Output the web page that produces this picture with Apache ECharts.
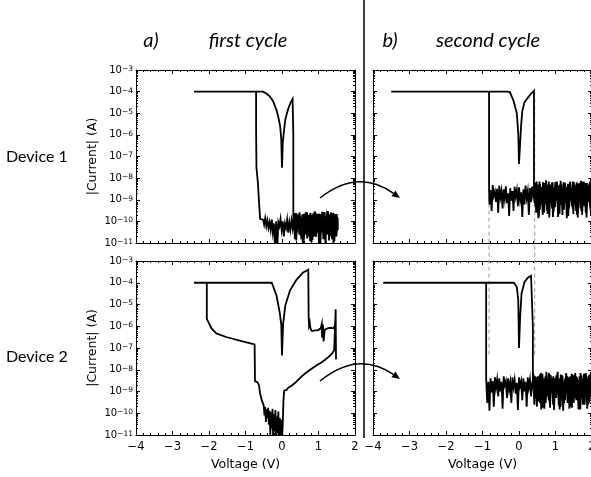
<!DOCTYPE html>
<html><head><meta charset="utf-8">
<script src="https://cdn.jsdelivr.net/npm/echarts@6/dist/echarts.min.js"></script>
<style>html,body{margin:0;padding:0;background:#fff}#c{width:591px;height:477px}</style>
</head><body><div id="c"></div>
<script>
// ---------- tick labels ----------
const xTickValues = [-4, -3, -2, -1, 0, 1, 2];
const yDecadeExponents = [-11, -10, -9, -8, -7, -6, -5, -4, -3];
const panelTitles = ['a)', 'first cycle', 'b)', 'second cycle'];
const rowLabels = ['Device 1', 'Device 2'];

// ---------- Device 1, first cycle : [V, |I| (A)] ----------
const dev1c1NoiseDown = [[1.52,9e-11],[1.49,2e-11],[1.46,2.2e-10],[1.43,4e-11],[1.40,1.5e-10],[1.37,1.5e-11],[1.34,2.6e-10],[1.31,6e-11],[1.28,1.8e-10],[1.25,2.5e-11],[1.22,1.2e-10],[1.19,8e-12],[1.16,2e-10],[1.13,5e-11],[1.10,2.8e-10],[1.07,3e-11],[1.04,1.4e-10],[1.01,1.8e-11],[0.98,2.2e-10],[0.95,7e-11],[0.92,1.6e-10],[0.89,2e-11],[0.86,2.4e-10],[0.83,4e-11],[0.80,1.3e-10],[0.77,1.2e-11],[0.74,2e-10],[0.71,6e-11],[0.68,1.7e-10],[0.65,2.5e-11],[0.62,2.3e-10],[0.59,5e-11],[0.56,1.4e-10],[0.53,1.5e-11],[0.50,1.9e-10],[0.47,4e-11],[0.44,2.1e-10],[0.41,3e-11],[0.38,1.5e-10],[0.35,6e-11],[0.32,1.8e-10],[0.29,5e-11],[0.26,1.1e-10],[0.23,4e-11],[0.20,9e-11],[0.17,3e-11],[0.14,1.2e-10],[0.11,5e-11],[0.08,8e-11],[0.05,2e-11],[0.02,1e-10],[-0.01,4e-11],[-0.04,1.3e-10],[-0.07,6e-11],[-0.10,9e-11],[-0.13,5e-12],[-0.16,1e-10],[-0.19,6e-12],[-0.22,8e-11],[-0.25,3e-11],[-0.28,1.2e-10],[-0.31,4e-11],[-0.34,9e-11],[-0.37,5e-11],[-0.40,1.1e-10],[-0.43,6e-11],[-0.46,1.4e-10],[-0.49,7e-11],[-0.52,1.2e-10],[-0.55,1e-10]];
const dev1c1Loop = [[-0.60,1.3e-10],[-0.63,8e-10],[-0.66,6e-9],[-0.70,3e-8],[-0.71,2e-6],[-0.71,1e-4],[-2.41,1e-4],[-0.52,1e-4],[-0.42,8e-5],[-0.33,5.9e-5],[-0.24,3.5e-5],[-0.15,1.4e-5],[-0.09,5.5e-6],[-0.05,2.5e-6],[-0.02,6e-7],[0.00,3e-8],[0.02,4e-7],[0.05,1.3e-6],[0.09,5e-6],[0.14,1.07e-5],[0.19,2e-5],[0.24,3.2e-5],[0.29,4.6e-5],[0.31,5e-5],[0.31,1e-6],[0.31,1e-8],[0.31,1.5e-10]];
const dev1c1NoiseUp = [[0.33,4e-11],[0.36,2.4e-10],[0.39,1.3e-11],[0.42,1.7e-10],[0.45,7e-11],[0.48,2.6e-10],[0.51,2.2e-11],[0.54,1.5e-10],[0.57,9e-12],[0.60,2e-10],[0.63,3.5e-11],[0.66,2.7e-10],[0.69,1.6e-11],[0.72,1.4e-10],[0.75,4.5e-11],[0.78,2.5e-10],[0.81,1.1e-11],[0.84,1.8e-10],[0.87,6e-11],[0.90,2.9e-10],[0.93,1.9e-11],[0.96,1.3e-10],[0.99,3e-11],[1.02,2.3e-10],[1.05,7e-12],[1.08,1.9e-10],[1.11,4e-11],[1.14,2.6e-10],[1.17,2.1e-11],[1.20,1.6e-10],[1.23,5e-11],[1.26,3e-10],[1.29,1.3e-11],[1.32,2e-10],[1.35,3.5e-11],[1.38,2.4e-10],[1.41,9e-12],[1.44,1.7e-10],[1.47,5.5e-11],[1.50,2.2e-10],[1.53,4e-11]];
const dev1c1NoiseBack = [[1.525,1.5e-10],[1.495,3e-11],[1.465,1e-10],[1.435,1.2e-11],[1.405,2.5e-10],[1.375,5e-11],[1.345,1.3e-10],[1.315,2e-11],[1.285,2.1e-10],[1.255,7e-11],[1.225,1.6e-10],[1.195,3e-11],[1.165,2.7e-10],[1.135,1.5e-11],[1.105,1.1e-10],[1.075,4.5e-11],[1.045,2.2e-10],[1.015,8e-12],[0.985,1.4e-10],[0.955,3.5e-11],[0.925,2.5e-10],[0.895,6e-11],[0.865,1.2e-10],[0.835,1.4e-11],[0.805,2e-10],[0.775,4e-11],[0.745,1.5e-10],[0.715,2e-11],[0.685,2.6e-10],[0.655,6e-11],[0.625,1.3e-10],[0.595,1e-11],[0.565,2.2e-10],[0.535,5e-11],[0.505,1.4e-10],[0.475,2.5e-11],[0.445,1.8e-10],[0.415,7e-11],[0.385,2.4e-10],[0.355,1.5e-11],[0.325,1.2e-10]];

// ---------- Device 1, second cycle ----------
const dev1c2NoiseDown = [[1.98,3e-9],[1.95,4e-10],[1.92,5e-9],[1.89,1.2e-9],[1.86,6e-9],[1.83,2.5e-10],[1.80,4e-9],[1.77,9e-10],[1.74,7e-9],[1.71,3e-10],[1.68,3.5e-9],[1.65,1.5e-9],[1.62,5.5e-9],[1.59,2e-10],[1.56,4.5e-9],[1.53,8e-10],[1.50,6.5e-9],[1.47,4e-10],[1.44,3e-9],[1.41,1.1e-9],[1.38,5e-9],[1.35,1.8e-10],[1.32,4e-9],[1.29,7e-10],[1.26,6e-9],[1.23,3.5e-10],[1.20,3e-9],[1.17,1.3e-9],[1.14,7.5e-9],[1.11,2.2e-10],[1.08,4.5e-9],[1.05,9e-10],[1.02,5.5e-9],[0.99,4.5e-10],[0.96,3.5e-9],[0.93,1.6e-10],[0.90,6e-9],[0.87,1e-9],[0.84,4e-9],[0.81,3e-10],[0.78,5e-9],[0.75,6e-10],[0.72,3.5e-9],[0.69,2.5e-10],[0.66,6.5e-9],[0.63,8e-10],[0.60,4e-9],[0.57,3.5e-10],[0.54,5e-9],[0.51,1.2e-9],[0.48,7e-9],[0.45,5e-10],[0.42,3e-9],[0.39,1.5e-9],[0.36,4e-9],[0.33,8e-10],[0.30,3.5e-9],[0.27,2e-10],[0.24,2.5e-9],[0.21,1.2e-9],[0.18,4.5e-9],[0.15,6e-10],[0.12,3e-9],[0.09,1.6e-10],[0.06,2.2e-9],[0.03,1e-9],[0.00,3.8e-9],[-0.03,5e-10],[-0.06,2.8e-9],[-0.09,1.4e-9],[-0.12,4e-9],[-0.15,3e-10],[-0.18,2.5e-9],[-0.21,9e-10],[-0.24,3.5e-9],[-0.27,1.8e-10],[-0.30,2e-9],[-0.33,7e-10],[-0.36,4.2e-9],[-0.39,1.1e-9],[-0.42,3e-9],[-0.45,4e-10],[-0.48,2.6e-9],[-0.51,1.3e-9],[-0.54,4.5e-9],[-0.57,2.5e-10],[-0.60,3.2e-9],[-0.63,8e-10],[-0.66,2.4e-9],[-0.69,1.5e-9],[-0.72,4.8e-9],[-0.75,3e-10],[-0.78,2.8e-9],[-0.81,6e-10],[-0.82,3e-9]];
const dev1c2Loop = [[-0.82,1e-4],[-3.50,1e-4],[-0.33,1e-4],[-0.25,9.5e-5],[-0.15,3.8e-5],[-0.06,1e-5],[-0.02,1.1e-6],[0.00,4.5e-8],[0.03,4e-7],[0.06,3e-6],[0.09,1.26e-5],[0.15,3.2e-5],[0.25,5.4e-5],[0.33,8e-5],[0.41,1.1e-4],[0.41,1e-6],[0.41,2e-9]];
const dev1c2NoiseUp = [[0.44,6e-9],[0.47,2.5e-10],[0.50,4e-9],[0.53,1.4e-10],[0.56,7e-9],[0.59,6e-10],[0.62,3e-9],[0.65,2e-10],[0.68,5.5e-9],[0.71,1.1e-9],[0.74,8e-9],[0.77,3e-10],[0.80,4.5e-9],[0.83,1.5e-10],[0.86,3.5e-9],[0.89,7e-10],[0.92,6.5e-9],[0.95,2.7e-10],[0.98,4e-9],[1.01,1.3e-9],[1.04,7e-9],[1.07,1.6e-10],[1.10,3e-9],[1.13,6e-10],[1.16,5e-9],[1.19,2e-10],[1.22,6.5e-9],[1.25,9e-10],[1.28,3.5e-9],[1.31,1.4e-10],[1.34,5.5e-9],[1.37,4e-10],[1.40,7e-9],[1.43,1.2e-9],[1.46,3e-9],[1.49,2.2e-10],[1.52,5e-9],[1.55,6e-10],[1.58,6.5e-9],[1.61,1.5e-10],[1.64,4e-9],[1.67,1e-9],[1.70,7.5e-9],[1.73,2e-10],[1.76,3.5e-9],[1.79,5e-10],[1.82,6e-9],[1.85,1.5e-10],[1.88,4.5e-9],[1.91,8e-10],[1.94,7e-9],[1.97,2e-10],[2.00,3e-9]];
const dev1c2NoiseBack = [[1.985,1.5e-9],[1.955,6e-9],[1.925,8e-10],[1.895,3e-9],[1.865,5e-10],[1.835,5e-9],[1.805,1.8e-9],[1.775,7e-9],[1.745,6e-10],[1.715,2.5e-9],[1.685,4e-10],[1.655,6e-9],[1.625,1.4e-9],[1.595,4e-9],[1.565,3e-10],[1.535,2.2e-9],[1.505,1.6e-9],[1.475,7e-9],[1.445,5e-10],[1.415,3.5e-9],[1.385,9e-10],[1.355,5.5e-9],[1.325,2e-10],[1.295,2e-9],[1.265,1.5e-9],[1.235,6e-9],[1.205,5.5e-10],[1.175,3e-9],[1.145,1e-9],[1.115,5e-9],[1.085,3e-10],[1.055,2.4e-9],[1.025,1.7e-9],[0.995,6.5e-9],[0.965,7e-10],[0.935,3e-9],[0.905,4e-10],[0.875,5e-9],[0.845,1.2e-9],[0.815,7e-9],[0.785,2.2e-10],[0.755,2.5e-9],[0.725,1.5e-9],[0.695,6e-9],[0.665,5e-10],[0.635,3.5e-9],[0.605,8e-10],[0.575,5.5e-9],[0.545,1.6e-10],[0.515,2.6e-9],[0.485,1.1e-9],[0.455,6e-9],[0.425,7e-10]];

// ---------- Device 2, first cycle ----------
const dev2c1Rise = [[0.00,5e-12],[0.02,3e-11],[0.04,4e-10],[0.06,1.1e-9],[0.09,1.3e-9],[0.13,1.2e-9],[0.17,1.5e-9],[0.22,1.6e-9],[0.27,1.9e-9],[0.32,2.3e-9],[0.37,2.6e-9],[0.42,3.2e-9],[0.47,3.8e-9],[0.52,4.2e-9],[0.57,5.5e-9],[0.62,6e-9],[0.67,7.5e-9],[0.72,8e-9],[0.77,1e-8],[0.82,1.1e-8],[0.87,1.3e-8],[0.92,1.5e-8],[0.97,1.7e-8],[1.02,1.8e-8],[1.07,2.1e-8],[1.12,2.3e-8],[1.17,2.8e-8],[1.22,3.2e-8],[1.27,3.8e-8],[1.32,4.5e-8],[1.37,5.5e-8],[1.40,6e-8],[1.43,8e-8],[1.45,9e-8]];
const dev2c1Return = [[1.46,2e-6],[1.47,6e-6],[1.48,3e-8],[1.47,1.5e-6],[1.44,1e-6],[1.41,8e-7],[1.37,9e-7],[1.33,8.5e-7],[1.29,9e-7],[1.25,8e-7],[1.21,8.5e-7],[1.17,7e-7],[1.14,2e-7],[1.12,1.2e-6],[1.10,3e-7],[1.09,1.3e-6],[1.06,8e-7],[1.02,7e-7],[0.98,6.5e-7],[0.94,7e-7],[0.90,6.5e-7],[0.86,7e-7],[0.82,6e-7],[0.78,8e-7],[0.76,1.5e-6],[0.74,1.1e-6],[0.73,2.5e-6],[0.72,4e-4],[0.70,4.6e-4],[0.68,4.5e-4],[0.58,3e-4],[0.40,1.4e-4],[0.22,4.5e-5],[0.09,8.9e-6],[0.03,1.26e-6],[0.00,4.5e-8],[-0.02,1.2e-6],[-0.06,4e-6],[-0.15,2.6e-5],[-0.28,1e-4],[-2.41,1e-4],[-2.06,1e-4],[-2.06,2.2e-6],[-2.02,1.6e-6],[-1.93,8e-7],[-1.80,4.7e-7],[-1.53,3.2e-7],[-1.16,2.2e-7],[-0.75,1.45e-7],[-0.74,3e-9],[-0.67,2.6e-9],[-0.63,1.9e-9],[-0.60,8e-10],[-0.55,3.8e-10],[-0.50,2.2e-10]];
const dev2c1Noise = [[-0.48,8e-11],[-0.46,2e-10],[-0.44,4e-11],[-0.42,1.5e-10],[-0.40,6e-11],[-0.38,1.8e-10],[-0.36,3e-11],[-0.34,1.3e-10],[-0.32,1e-11],[-0.30,1.1e-10],[-0.28,2e-11],[-0.26,1.6e-10],[-0.24,5e-12],[-0.22,9e-11],[-0.20,1.5e-11],[-0.18,1.4e-10],[-0.16,6e-12],[-0.14,7e-11],[-0.12,1.2e-11],[-0.10,1.2e-10],[-0.08,4e-12],[-0.06,6e-11],[-0.04,8e-12],[-0.02,5e-11],[0.00,5e-12]];

// ---------- Device 2, second cycle ----------
const dev2c2NoiseDown = [[1.98,2e-9],[1.95,5e-9],[1.92,3e-10],[1.89,4e-9],[1.86,1.5e-9],[1.83,7e-9],[1.80,2.5e-10],[1.77,3e-9],[1.74,9e-10],[1.71,5.5e-9],[1.68,1.5e-10],[1.65,2.5e-9],[1.62,6e-10],[1.59,4.5e-9],[1.56,1.2e-9],[1.53,6e-9],[1.50,3e-10],[1.47,3.5e-9],[1.44,8e-10],[1.41,5e-9],[1.38,1.6e-10],[1.35,3e-9],[1.32,1.1e-9],[1.29,7e-9],[1.26,4e-10],[1.23,2.8e-9],[1.20,7e-10],[1.17,4.5e-9],[1.14,2e-10],[1.11,3.5e-9],[1.08,1.3e-9],[1.05,6.5e-9],[1.02,5e-10],[0.99,3e-9],[0.96,1.4e-10],[0.93,4e-9],[0.90,9e-10],[0.87,5.5e-9],[0.84,3e-10],[0.81,3e-9],[0.78,1.2e-9],[0.75,8e-9],[0.72,4e-10],[0.69,3.5e-9],[0.66,1.8e-10],[0.63,4.5e-9],[0.60,1e-9],[0.57,6e-9],[0.54,3.5e-10],[0.51,3e-9],[0.48,7e-10],[0.45,5e-9],[0.42,2.5e-10],[0.39,4e-9],[0.36,2.5e-9],[0.33,6e-10],[0.30,3.5e-9],[0.27,1.5e-9],[0.24,4.5e-9],[0.21,2e-10],[0.18,2.8e-9],[0.15,1e-9],[0.12,4e-9],[0.09,4e-10],[0.06,3e-9],[0.03,1.8e-9],[0.00,4.5e-9],[-0.03,1.4e-10],[-0.06,2.5e-9],[-0.09,8e-10],[-0.12,3.5e-9],[-0.15,1.6e-9],[-0.18,4.5e-9],[-0.21,3e-10],[-0.24,2.6e-9],[-0.27,1.2e-9],[-0.30,4e-9],[-0.33,5e-10],[-0.36,3e-9],[-0.39,2e-9],[-0.42,5e-9],[-0.45,1.6e-10],[-0.48,2.8e-9],[-0.51,1e-9],[-0.54,4e-9],[-0.57,6e-10],[-0.60,3.5e-9],[-0.63,1.5e-9],[-0.66,4.5e-9],[-0.69,2e-10],[-0.72,3e-9],[-0.75,9e-10],[-0.78,4e-9],[-0.81,1.3e-10],[-0.84,2.8e-9],[-0.87,3e-10],[-0.90,4e-9]];
const dev2c2Loop = [[-0.90,1e-4],[-3.72,1e-4],[-0.14,1e-4],[-0.06,6.3e-5],[-0.02,1.6e-5],[0.00,1e-7],[0.03,2.5e-6],[0.07,3.2e-5],[0.15,1.07e-4],[0.24,1.7e-4],[0.33,2.1e-4],[0.37,2.1e-4],[0.38,1e-6],[0.38,3e-9]];
const dev2c2NoiseUp = [[0.40,6e-9],[0.43,1.2e-9],[0.46,3.5e-9],[0.49,2e-10],[0.52,5e-9],[0.55,8e-10],[0.58,3e-9],[0.61,1.5e-10],[0.64,6.5e-9],[0.67,1.1e-9],[0.70,4e-9],[0.73,3e-10],[0.76,2.5e-9],[0.79,6e-10],[0.82,7e-9],[0.85,1.8e-10],[0.88,3.5e-9],[0.91,1.4e-9],[0.94,5e-9],[0.97,4e-10],[1.00,3e-9],[1.03,9e-10],[1.06,8e-9],[1.09,2.2e-10],[1.12,4e-9],[1.15,6e-10],[1.18,5.5e-9],[1.21,1.3e-10],[1.24,3e-9],[1.27,1.2e-9],[1.30,6e-9],[1.33,3e-10],[1.36,4.5e-9],[1.39,7e-10],[1.42,3e-9],[1.45,1.8e-10],[1.48,5.5e-9],[1.51,1e-9],[1.54,7e-9],[1.57,4e-10],[1.60,3e-9],[1.63,1.5e-10],[1.66,5e-9],[1.69,8e-10],[1.72,4e-9],[1.75,2.5e-10],[1.78,6.5e-9],[1.81,1.3e-9],[1.84,3.5e-9],[1.87,1.6e-10],[1.90,5e-9],[1.93,7e-10],[1.96,6e-9],[1.99,3e-10]];
const dev2c2NoiseBack = [[1.985,4e-9],[1.955,8e-10],[1.925,6e-9],[1.895,2.5e-10],[1.865,3e-9],[1.835,1.4e-9],[1.805,5.5e-9],[1.775,4e-10],[1.745,2.6e-9],[1.715,9e-10],[1.685,7e-9],[1.655,1.8e-10],[1.625,3.5e-9],[1.595,1.2e-9],[1.565,5e-9],[1.535,5e-10],[1.505,2.5e-9],[1.475,1.6e-9],[1.445,6.5e-9],[1.415,2e-10],[1.385,3e-9],[1.355,7e-10],[1.325,5e-9],[1.295,1.3e-9],[1.265,4e-9],[1.235,3e-10],[1.205,2.2e-9],[1.175,1e-9],[1.145,6e-9],[1.115,1.5e-10],[1.085,3.5e-9],[1.055,8e-10],[1.025,5.5e-9],[0.995,1.5e-9],[0.965,4e-9],[0.935,2.5e-10],[0.905,2.8e-9],[0.875,1.1e-9],[0.845,6e-9],[0.815,4e-10],[0.785,3e-9],[0.755,1.3e-9],[0.725,5e-9],[0.695,1.6e-10],[0.665,2.5e-9],[0.635,9e-10],[0.605,7e-9],[0.575,3e-10],[0.545,3.5e-9],[0.515,1.4e-9],[0.485,4.5e-9],[0.455,5e-10],[0.425,3e-9],[0.395,1.2e-9]];

// reference voltages of the dashed guide lines (second cycle)
const guideVoltages = [-0.82, 0.43];
const guideCurrents = [1e-4, 4.4e-8];

// ---------- build ----------
const FONT = '"DejaVu Sans", Verdana, sans-serif';
const TFONT = 'Lato, "Open Sans", sans-serif';
const toLog = arr => arr.map(p => [p[0], Math.log10(p[1])]);
const panels = [
  dev1c1NoiseDown.concat(dev1c1Loop, dev1c1NoiseUp, dev1c1NoiseBack),
  dev1c2NoiseDown.concat(dev1c2Loop, dev1c2NoiseUp, dev1c2NoiseBack),
  dev2c1Rise.concat(dev2c1Return, dev2c1Noise),
  dev2c2NoiseDown.concat(dev2c2Loop, dev2c2NoiseUp, dev2c2NoiseBack)
];
const yMinorTicks = [];
for (let i = 0; i < yDecadeExponents.length - 1; i++)
  for (let k = 2; k <= 9; k++) yMinorTicks.push(yDecadeExponents[i] + Math.log10(k));

const gridRects = [
  {left:136, top:70, width:219, height:173},
  {left:373, top:70, width:219, height:173},
  {left:136, top:261, width:219, height:174},
  {left:373, top:261, width:219, height:174}
];
const black = '#000';
const minus = s => String(s).replace('-', '\u2212');
const xAxes = [], yAxes = [], series = [];
gridRects.forEach((g, gi) => {
  const bottomRow = gi >= 2, leftCol = gi % 2 === 0;
  const xBase = {gridIndex: gi, type: 'value', min: -4, max: 2, interval: 1,
    axisLine: {show: true, onZero: false, lineStyle: {color: black, width: 1}},
    axisTick: {show: true, inside: true, length: 4, lineStyle: {color: black, width: 1}},
    minorTick: {show: true, splitNumber: 5, length: 2, lineStyle: {color: black, width: 1}},
    splitLine: {show: false}, minorSplitLine: {show: false}};
  xAxes.push(Object.assign({}, xBase, {position: 'bottom',
    axisLabel: {show: bottomRow, color: black, fontFamily: FONT, fontSize: 11.5, margin: 6,
      customValues: xTickValues, formatter: v => minus(v)},
    name: bottomRow ? 'Voltage (V)' : '', nameLocation: 'middle', nameGap: 23, nameMoveOverlap: false,
    nameTextStyle: {color: black, fontFamily: FONT, fontSize: 12.5}}));
  xAxes.push(Object.assign({}, xBase, {position: 'top', axisLabel: {show: false}}));
  const yBase = {gridIndex: gi, type: 'value', min: -11, max: -3, interval: 1,
    splitLine: {show: false}, axisLabel: {show: false}};
  const major = {show: true, inside: true, length: 4, lineStyle: {color: black, width: 1}};
  const minor = {show: true, inside: true, length: 2, customValues: yMinorTicks, lineStyle: {color: black, width: 1}};
  yAxes.push(Object.assign({}, yBase, {position: 'left',
    axisLine: {show: true, onZero: false, lineStyle: {color: black, width: 1}}, axisTick: major,
    axisLabel: {show: leftCol, margin: 3, color: black, fontFamily: FONT,
      formatter: v => '{b|10}{s|' + minus(v) + '}',
      rich: {b: {fontSize: 10, fontFamily: FONT, color: black, verticalAlign: 'middle'},
             s: {fontSize: 7.5, fontFamily: FONT, color: black, verticalAlign: 'top', lineHeight: 8, padding: [0, 0, 9, 0]}}},
    name: leftCol ? '|Current| (A)' : '', nameLocation: 'middle', nameRotate: 90, nameGap: 37, nameMoveOverlap: false,
    nameTextStyle: {color: black, fontFamily: FONT, fontSize: 12.5}}));
  yAxes.push(Object.assign({}, yBase, {position: 'left', axisLine: {show: false, onZero: false}, axisTick: minor}));
  yAxes.push(Object.assign({}, yBase, {position: 'right',
    axisLine: {show: true, onZero: false, lineStyle: {color: black, width: 1}}, axisTick: major}));
  yAxes.push(Object.assign({}, yBase, {position: 'right', axisLine: {show: false, onZero: false}, axisTick: minor}));
  series.push({type: 'line', xAxisIndex: 2 * gi, yAxisIndex: 4 * gi, data: toLog(panels[gi]),
    showSymbol: false, symbol: 'none', clip: true, animation: false,
    lineStyle: {color: black, width: 1.8, join: 'miter'}, silent: true});
});

const chart = echarts.init(document.getElementById('c'), null, {renderer: 'canvas'});
chart.setOption({
  animation: false,
  backgroundColor: '#fff',
  grid: gridRects.map(r => Object.assign({outerBoundsMode: 'none', containLabel: false}, r)),
  xAxis: xAxes, yAxis: yAxes, series: series
});

// ---------- annotations ----------
function curvedArrow(x0, y0, cx, cy, tx, ty) {
  let dx = tx - cx, dy = ty - cy; const L = Math.hypot(dx, dy); dx /= L; dy /= L;
  const hl = 8, hw = 3.5, bx = tx - dx * hl, by = ty - dy * hl;
  return [
    {type: 'bezierCurve', shape: {x1: x0, y1: y0, x2: bx, y2: by, cpx1: cx, cpy1: cy},
     style: {stroke: black, lineWidth: 1.5, fill: null}},
    {type: 'polygon', shape: {points: [[tx, ty], [bx - dy * hw, by + dx * hw], [bx + dy * hw, by - dx * hw]]},
     style: {fill: black}}
  ];
}
const gfx = [];
gfx.push({type: 'line', shape: {x1: 364, y1: 0, x2: 364, y2: 438}, style: {stroke: black, lineWidth: 1.5}});
const tstyle = (t, size, italic, align) => ({text: t, font: (italic ? 'italic ' : '') + size + 'px ' + TFONT,
  fill: black, align: align || 'center', verticalAlign: 'middle'});
gfx.push({type: 'text', x: 151, y: 41, style: tstyle(panelTitles[0], 20, true)});
gfx.push({type: 'text', x: 248, y: 41, style: tstyle(panelTitles[1], 20, true)});
gfx.push({type: 'text', x: 390, y: 41, style: tstyle(panelTitles[2], 20, true)});
gfx.push({type: 'text', x: 488, y: 41, style: tstyle(panelTitles[3], 20, true)});
gfx.push({type: 'text', x: 6, y: 157, style: tstyle(rowLabels[0], 16, false, 'left')});
gfx.push({type: 'text', x: 6, y: 357, style: tstyle(rowLabels[1], 16, false, 'left')});
gfx.push(...curvedArrow(320, 198, 358, 168, 400, 198));
gfx.push(...curvedArrow(320, 381, 358, 350, 400, 379));
guideVoltages.forEach(v => {
  const p1 = chart.convertToPixel({xAxisIndex: 2, yAxisIndex: 4}, [v, Math.log10(guideCurrents[0])]);
  const p2 = chart.convertToPixel({xAxisIndex: 6, yAxisIndex: 12}, [v, Math.log10(guideCurrents[1])]);
  gfx.push({type: 'line', z: 1, shape: {x1: p1[0], y1: p1[1], x2: p2[0], y2: p2[1]},
    style: {stroke: '#999', lineWidth: 1, lineDash: [4, 3]}});
});
chart.setOption({graphic: gfx});
</script>
</body></html>
